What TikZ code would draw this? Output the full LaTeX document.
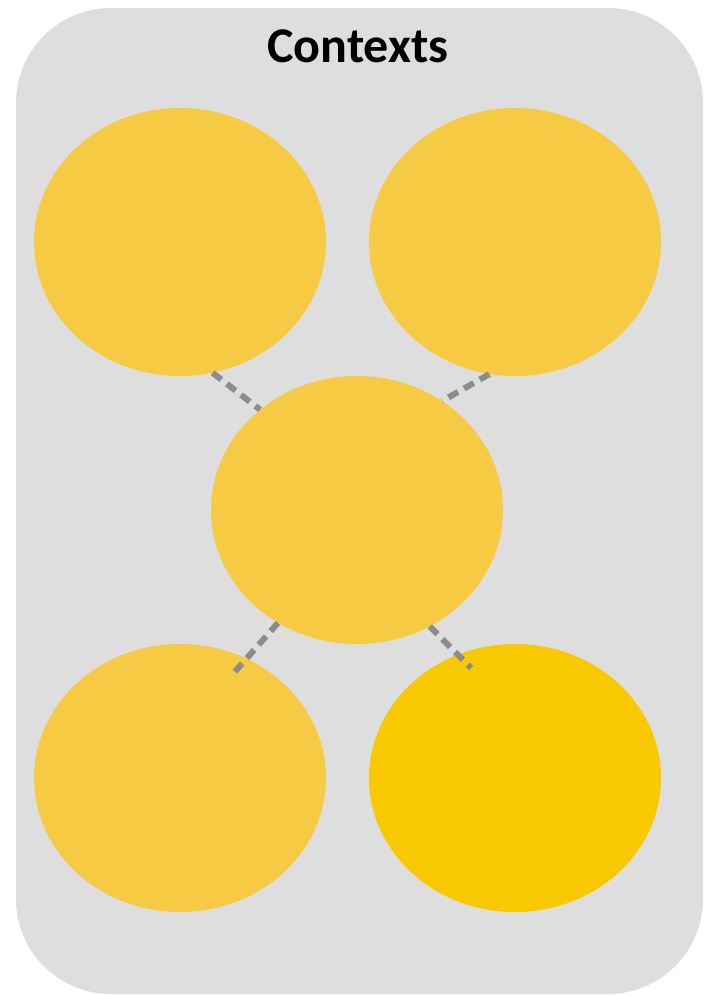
\documentclass[tikz,border=0pt]{standalone}
\usepackage{fontspec}
\setmainfont{Carlito}
\usetikzlibrary{shapes.geometric}
\definecolor{panelgray}{HTML}{DEDEDE}
\definecolor{softyellow}{HTML}{F6CA43}
\definecolor{deepyellow}{HTML}{F8C800}
\definecolor{linkgray}{HTML}{8C8C8C}
\tikzset{
  bubble/.style={ellipse, fill=softyellow, draw=none, inner sep=0pt,
    minimum width=292pt, minimum height=268pt},
  link/.style={draw=linkgray, line width=6pt, dash pattern=on 11pt off 7pt}
}
\begin{document}
\begin{tikzpicture}[x=1pt, y=-1pt]
\useasboundingbox (0,0) rectangle (709,996);
\fill[panelgray, rounded corners=95pt] (16,8) rectangle (703,994);
\node[font=\fontsize{50}{60}\selectfont\bfseries] (title) at (358,46) {Contexts};
\node[bubble] (tl) at (180,242) {};
\node[bubble] (tr) at (515,242) {};
\node[bubble] (mid) at (357,510) {};
\node[bubble] (bl) at (180,778) {};
\node[bubble, fill=deepyellow] (br) at (515,778) {};
\coordinate (blin) at (232,675);
\coordinate (brin) at (471,668);
\draw[link] (tl.-76) -- (mid.134);
\draw[link] (tr.-101) -- (mid.52);
\draw[link] (mid.-125) -- (blin);
\draw[link] (mid.-58) -- (brin);
\end{tikzpicture}
\end{document}
